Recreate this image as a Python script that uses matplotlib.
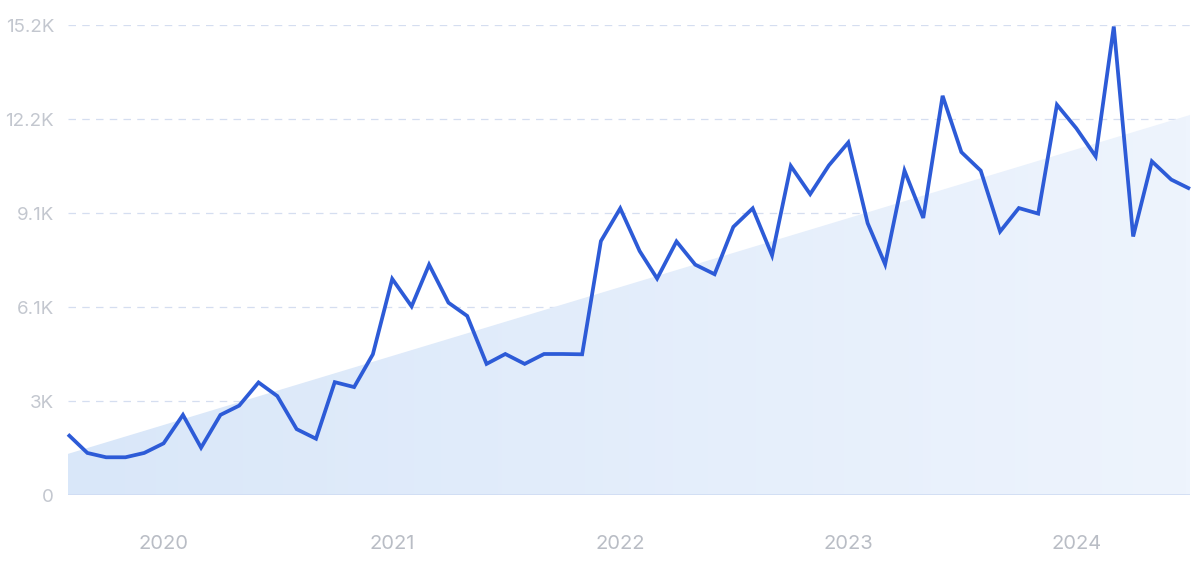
import numpy as np
import pandas as pd
import matplotlib.pyplot as plt
import matplotlib.dates as mdates
from matplotlib.patches import Polygon
from matplotlib.colors import LinearSegmentedColormap

# Monthly values, Aug 2019 - Jul 2024
months = pd.date_range('2019-08-01', '2024-07-01', freq='MS')
values = [
    1960, 1360, 1220, 1220, 1360, 1670, 2590, 1530, 2590, 2890, 3640, 3200,
    2130, 1820, 3650, 3490, 4550, 6990, 6100, 7450, 6220, 5790, 4240, 4560,
    4240, 4560, 4560, 4550, 8210, 9270, 7890, 7000, 8200, 7450, 7140, 8670,
    9270, 7750, 10640, 9730, 10660, 11400, 8790, 7460, 10490, 8960, 12910, 11090,
    10490, 8520, 9280, 9100, 12620, 11860, 10950, 15150, 8360, 10790, 10200, 9900,
]
trend_start = 1330
trend_end = 12290

y_ticks = [0, 3040, 6080, 9120, 12160, 15200]
y_labels = ['0', '3K', '6.1K', '9.1K', '12.2K', '15.2K']
x_ticks = pd.to_datetime(['2020-01-01', '2021-01-01', '2022-01-01', '2023-01-01', '2024-01-01'])
x_labels = ['2020', '2021', '2022', '2023', '2024']

plt.rcParams['font.family'] = ['Inter', 'DejaVu Sans']

fig = plt.figure(figsize=(12, 5.61), dpi=100)
ax = fig.add_axes([68 / 1200, 66 / 561, 1122 / 1200, 470 / 561])

x0, x1 = months[0], months[-1]
ax.set_xlim(x0, x1)
ax.set_ylim(0, 15200)

# Trend area with a soft left-to-right gradient
xn0, xn1 = mdates.date2num(x0), mdates.date2num(x1)
poly = Polygon([(xn0, 0), (xn0, trend_start), (xn1, trend_end), (xn1, 0)],
               closed=True, facecolor='none', edgecolor='none')
ax.add_patch(poly)
cmap = LinearSegmentedColormap.from_list('fade', ['#d9e7f9', '#eef4fd'])
grad = np.linspace(0, 1, 256).reshape(1, -1)
im = ax.imshow(grad, cmap=cmap, aspect='auto', extent=[xn0, xn1, 0, trend_end],
               origin='lower', zorder=1)
im.set_clip_path(poly)

# Grid
for yt in y_ticks[1:]:
    ax.axhline(yt, color='#d5def0', lw=0.9, ls=(0, (6, 5)), zorder=0)
ax.axhline(0, color='#cfdcf3', lw=1.2, zorder=2)

ax.plot(months, values, color='#2d5bd7', lw=2.7, solid_joinstyle='miter',
        solid_capstyle='butt', zorder=3, clip_on=False)

ax.set_yticks(y_ticks)
ax.set_yticklabels(y_labels)
ax.set_xticks(x_ticks)
ax.set_xticklabels(x_labels)
ax.tick_params(axis='y', length=0, pad=10, labelsize=13.5, labelcolor='#c3c7cf')
ax.tick_params(axis='x', length=0, pad=29, labelsize=14.5, labelcolor='#b9bdc5')
for s in ax.spines.values():
    s.set_visible(False)

fig.savefig('out.png', dpi=100)
